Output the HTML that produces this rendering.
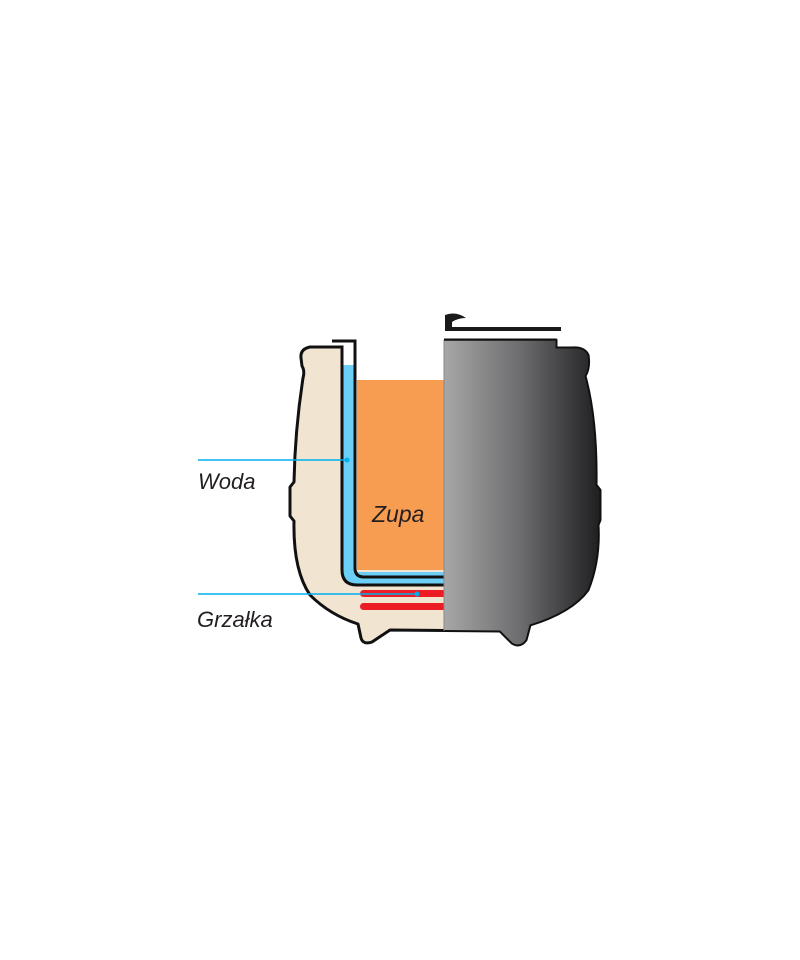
<!DOCTYPE html>
<html><head><meta charset="utf-8"><style>
html,body{margin:0;padding:0;background:#fff;width:800px;height:960px;overflow:hidden}
svg{display:block}
text{font-family:"Liberation Sans",sans-serif;font-style:italic;fill:#231f20}
</style></head><body>
<svg width="800" height="960" viewBox="0 0 800 960">
<defs>
<linearGradient id="g" x1="444" y1="0" x2="600" y2="0" gradientUnits="userSpaceOnUse">
<stop offset="0" stop-color="#a7a7a8"/><stop offset="0.5" stop-color="#6b6b6d"/><stop offset="1" stop-color="#1f1f21"/>
</linearGradient>
<clipPath id="L"><rect x="0" y="0" width="444" height="960"/></clipPath>
<clipPath id="R"><rect x="444" y="0" width="400" height="960"/></clipPath>
</defs>
<path d="M342 347 L310 347 Q300 349 301 358 L302 366 Q305 371 303 378 Q295 430 294 482 L290 487 L290 516 L294 521 Q293 570 310 595 Q330 615 358 624 L361 638 Q363 645 372 642 L390 630 L500 631 L512 643 Q520 648 526 640 L530 625 Q572 612 588 590 Q600 560 598 525 L600 520 L600 490 L596 485 Q597 420 585 376 Q590 368 588 355 Q584 347 572 348 L556 348 L556 340 L444 340 Z" fill="#f1e5d2" stroke="#111" stroke-width="3" stroke-linejoin="round"/>
<path d="M342 347 L310 347 Q300 349 301 358 L302 366 Q305 371 303 378 Q295 430 294 482 L290 487 L290 516 L294 521 Q293 570 310 595 Q330 615 358 624 L361 638 Q363 645 372 642 L390 630 L500 631 L512 643 Q520 648 526 640 L530 625 Q572 612 588 590 Q600 560 598 525 L600 520 L600 490 L596 485 Q597 420 585 376 Q590 368 588 355 Q584 347 572 348 L556 348 L556 340 L444 340 Z" fill="url(#g)" stroke="#111" stroke-width="1" clip-path="url(#R)"/>
<!-- white interior above soup -->
<rect x="343.5" y="330" width="100.5" height="35" fill="#fff"/>
<rect x="355" y="330" width="89" height="50" fill="#fff"/>
<g clip-path="url(#L)">
<path d="M342 365 L355 365 L355 568 Q355 572 360 572 L446 572 L446 585 L355 585 Q342 585 342 572 Z" fill="#6dcff6"/>
<rect x="357" y="380" width="89" height="190" fill="#f79d52"/>
<path d="M342 346 L342 570 Q342 585 357 585 L446 585" fill="none" stroke="#111" stroke-width="3"/>
<path d="M332 341 L355 341 L355 568 Q355 577 364 577 L446 577" fill="none" stroke="#111" stroke-width="3"/>
<rect x="360" y="590" width="90" height="7" rx="3.5" fill="#ed1c24"/>
<rect x="360" y="603" width="90" height="7" rx="3.5" fill="#ed1c24"/>
</g>
<line x1="444" y1="340" x2="444" y2="631" stroke="#888" stroke-width="1"/>
<line x1="444" y1="340" x2="556" y2="340" stroke="#111" stroke-width="1.5"/>
<path d="M445 330 L445 315 Q456 311 466 318 Q458 318 452 322 L452 330 Z" fill="#1a1a1a"/>
<rect x="445" y="327" width="116" height="4" fill="#1a1a1a"/>
<line x1="198" y1="460" x2="347" y2="460" stroke="#00aeef" stroke-width="1.5"/>
<circle cx="347" cy="460" r="2.5" fill="#00aeef"/>
<line x1="198" y1="594" x2="417" y2="594" stroke="#00aeef" stroke-width="1.5"/>
<circle cx="417" cy="594" r="2.5" fill="#00aeef"/>
<text x="198" y="489" font-size="22">Woda</text>
<text x="197" y="627" font-size="22">Grzałka</text>
<text x="372" y="522" font-size="23">Zupa</text>
</svg>
</body></html>
